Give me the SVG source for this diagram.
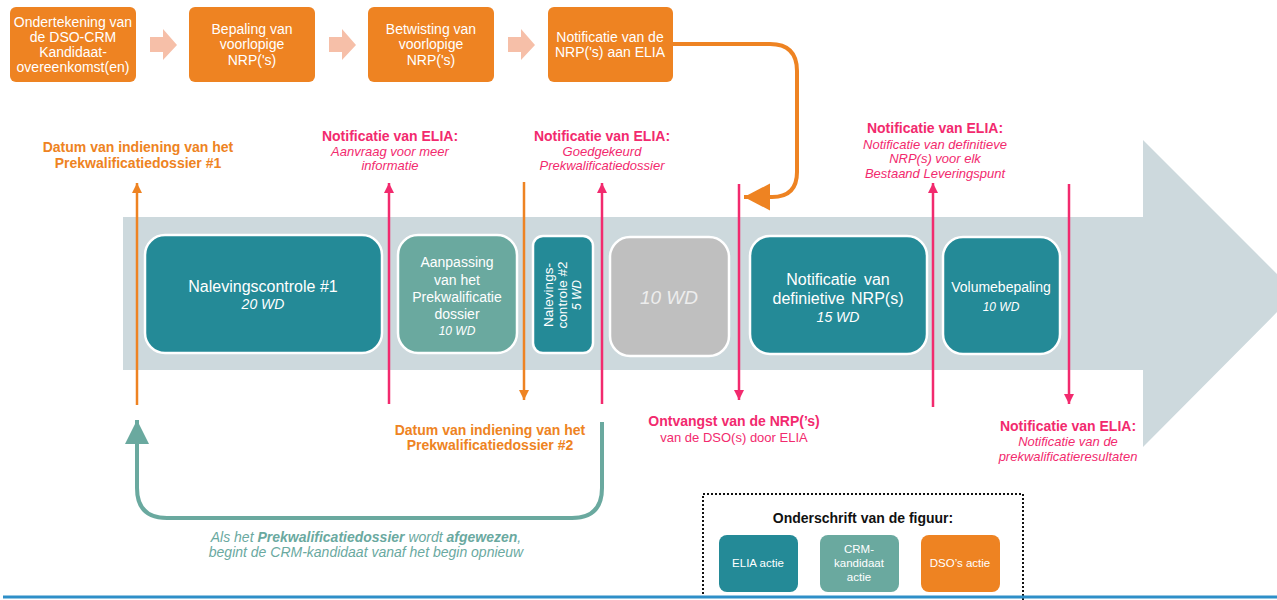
<svg xmlns="http://www.w3.org/2000/svg" width="1277" height="600" viewBox="0 0 1277 600">
<style>
text{font-family:"Liberation Sans",Arial,sans-serif}
.top{fill:#EE8322}
.tt{fill:#fff;font-size:14px;text-anchor:middle}
.chev{fill:#F6BFA8}
.node{stroke:#fff;stroke-width:2.5}
.elia{fill:#248A97}
.crm{fill:#6AA99F}
.gray{fill:#BFBFBF}
.nt{fill:#fff;font-size:16px;text-anchor:middle}
.ns{fill:#fff;font-size:14px;text-anchor:middle}
.it{font-style:italic}
.pinkL{stroke:#F22A6E;stroke-width:2.5;fill:none}
.orL{stroke:#EE8322;stroke-width:2.5;fill:none}
.pb{fill:#F22A6E;font-size:14px;font-weight:bold;text-anchor:middle}
.pi{fill:#F22A6E;font-size:13px;font-style:italic;text-anchor:middle}
.pn{fill:#F22A6E;font-size:13px;text-anchor:middle}
.ob{fill:#EE8322;font-size:14px;font-weight:bold;text-anchor:middle}
.cap{fill:#6AA99F;font-size:14px;font-style:italic;text-anchor:middle}
.lt{fill:#fff;font-size:11.5px;text-anchor:middle}
</style>
<defs>
<marker id="ap" markerUnits="userSpaceOnUse" markerWidth="12" markerHeight="12" refX="10" refY="5" orient="auto"><path d="M0,0 L10,5 L0,10 Z" fill="#F22A6E"/></marker>
<marker id="ao" markerUnits="userSpaceOnUse" markerWidth="12" markerHeight="12" refX="10" refY="5" orient="auto"><path d="M0,0 L10,5 L0,10 Z" fill="#EE8322"/></marker>
<marker id="aoBig" markerUnits="userSpaceOnUse" markerWidth="30" markerHeight="30" refX="26" refY="13.5" orient="auto"><path d="M0,0 L26,13.5 L0,27 Z" fill="#EE8322"/></marker>
<marker id="atBig" markerUnits="userSpaceOnUse" markerWidth="30" markerHeight="30" refX="24" refY="12" orient="auto"><path d="M0,0 L24,12 L0,24 Z" fill="#6AA99F"/></marker>
</defs>
<rect width="1277" height="600" fill="#fff"/>
<g id="timeline-arrow">
<polygon points="123,217 1143,217 1143,140 1296,293 1143,447 1143,370 123,370" fill="#CDD9DD"/>
</g>
<g id="top-process">
<g id="step1"><rect class="top" x="10" y="7" width="126" height="75" rx="6"/>
<text class="tt" x="73" y="27">Ondertekening van</text><text class="tt" x="73" y="42">de DSO-CRM</text><text class="tt" x="73" y="57">Kandidaat-</text><text class="tt" x="73" y="72">overeenkomst(en)</text></g>
<g id="step2"><rect class="top" x="189" y="7" width="126" height="75" rx="6"/>
<text class="tt" x="252" y="34">Bepaling van</text><text class="tt" x="252" y="49">voorlopige</text><text class="tt" x="252" y="65">NRP('s)</text></g>
<g id="step3"><rect class="top" x="368" y="7" width="126" height="75" rx="6"/>
<text class="tt" x="431" y="34">Betwisting van</text><text class="tt" x="431" y="49">voorlopige</text><text class="tt" x="431" y="65">NRP('s)</text></g>
<g id="step4"><rect class="top" x="548" y="7" width="125" height="75" rx="6"/>
<text class="tt" x="610" y="42">Notificatie van de</text><text class="tt" x="610" y="57">NRP('s) aan ELIA</text></g>
<polygon class="chev" points="150,37 163,37 163,29 177,45 163,60 163,52 150,52"/>
<polygon class="chev" points="329,37 342,37 342,29 356,45 342,60 342,52 329,52"/>
<polygon class="chev" points="508,37 521,37 521,29 535,45 521,60 521,52 508,52"/>
</g>
<g id="phases">
<g id="nalevings1"><rect class="node elia" x="145" y="235" width="237" height="118" rx="20"/>
<text class="nt" x="263" y="292">Nalevingscontrole #1</text><text class="ns it" x="263" y="309">20 WD</text></g>
<g id="aanpassing"><rect class="node crm" x="398" y="235" width="119" height="118" rx="20"/>
<text class="ns" x="457" y="267">Aanpassing</text><text class="ns" x="457" y="285">van het</text><text class="ns" x="457" y="302">Prekwalificatie</text><text class="ns" x="457" y="319">dossier</text><text class="it" x="457" y="335" fill="#fff" font-size="12" text-anchor="middle">10 WD</text></g>
<g id="nalevings2"><rect class="node elia" x="533" y="236" width="60" height="117" rx="10"/>
<g transform="translate(563,295) rotate(-90)"><text x="0" y="-10.5" fill="#fff" font-size="13.5" text-anchor="middle">Nalevings-</text><text x="0" y="4" fill="#fff" font-size="13.5" text-anchor="middle">controle #2</text><text class="it" x="0" y="18" fill="#fff" font-size="12" text-anchor="middle">5 WD</text></g></g>
<g id="wait"><rect class="node gray" x="610" y="237" width="119" height="119" rx="20"/>
<text class="it" x="669" y="304" fill="#EDEDED" font-size="19" text-anchor="middle">10 WD</text></g>
<g id="definitieve"><rect class="node elia" x="750" y="236" width="177" height="118" rx="20"/>
<text class="nt" x="838" y="285" word-spacing="3">Notificatie van</text><text class="nt" x="838" y="304" word-spacing="2">definietive NRP(s)</text><text class="ns it" x="838" y="322">15 WD</text></g>
<g id="volume"><rect class="node elia" x="943" y="237" width="117" height="117" rx="20"/>
<text class="ns" x="1001" y="292">Volumebepaling</text><text class="it" x="1001" y="311" fill="#fff" font-size="12" text-anchor="middle">10 WD</text></g>
</g>
<g id="connectors">
<line class="orL" x1="137" y1="405" x2="137" y2="183" marker-end="url(#ao)"/>
<line class="pinkL" x1="389" y1="404" x2="389" y2="183" marker-end="url(#ap)"/>
<line class="orL" x1="524" y1="182" x2="524" y2="400" marker-end="url(#ao)"/>
<line class="pinkL" x1="602" y1="404" x2="602" y2="183" marker-end="url(#ap)"/>
<line class="pinkL" x1="739" y1="184" x2="739" y2="400" marker-end="url(#ap)"/>
<line class="pinkL" x1="933" y1="407" x2="933" y2="183" marker-end="url(#ap)"/>
<line class="pinkL" x1="1069" y1="184" x2="1069" y2="404" marker-end="url(#ap)"/>
<path d="M673,44 H770 Q797,44 797,71 V172 Q797,197 772,197 H744" stroke="#EE8322" stroke-width="4" fill="none" marker-end="url(#aoBig)"/>
<path d="M602,422 V488 Q602,518 572,518 H167 Q137,518 137,488 V420" stroke="#6AA99F" stroke-width="4" fill="none" marker-end="url(#atBig)"/>
</g>
<g id="labels">
<text class="ob" x="138" y="152">Datum van indiening van het</text><text class="ob" x="138" y="168">Prekwalificatiedossier #1</text>
<text class="pb" x="390" y="141">Notificatie van ELIA:</text><text class="pi" x="390" y="156">Aanvraag voor meer</text><text class="pi" x="390" y="170">informatie</text>
<text class="pb" x="602" y="141">Notificatie van ELIA:</text><text class="pi" x="602" y="156">Goedgekeurd</text><text class="pi" x="602" y="170">Prekwalificatiedossier</text>
<text class="pb" x="935" y="133">Notificatie van ELIA:</text><text class="pi" x="935" y="149">Notificatie van definitieve</text><text class="pi" x="935" y="163">NRP(s) voor elk</text><text class="pi" x="935" y="178">Bestaand Leveringspunt</text>
<text class="ob" x="490" y="435">Datum van indiening van het</text><text class="ob" x="490" y="450">Prekwalificatiedossier #2</text>
<text class="pb" x="734" y="426">Ontvangst van de NRP(’s)</text><text class="pn" x="734" y="442">van de DSO(s) door ELIA</text>
<text class="pb" x="1068" y="431">Notificatie van ELIA:</text><text class="pi" x="1068" y="446">Notificatie van de</text><text class="pi" x="1068" y="461">prekwalificatieresultaten</text>
<text class="cap" x="366" y="542">Als het <tspan font-weight="bold">Prekwalificatiedossier</tspan> wordt <tspan font-weight="bold">afgewezen</tspan>,</text>
<text class="cap" x="366" y="557">begint de CRM-kandidaat vanaf het begin opnieuw</text>
</g>
<g id="legend">
<rect x="703" y="494" width="320" height="120" fill="none" stroke="#111" stroke-width="2" stroke-dasharray="2,2"/>
<text x="863" y="523" font-size="14" font-weight="bold" fill="#111" text-anchor="middle">Onderschrift van de figuur:</text>
<g id="legend-elia"><rect class="elia" x="719" y="535" width="79" height="57" rx="8"/><text class="lt" x="758" y="567">ELIA actie</text></g>
<g id="legend-crm"><rect class="crm" x="820" y="535" width="79" height="57" rx="8"/><text class="lt" x="859" y="553">CRM-</text><text class="lt" x="859" y="567">kandidaat</text><text class="lt" x="859" y="581">actie</text></g>
<g id="legend-dso"><rect class="top" x="921" y="535" width="79" height="57" rx="8"/><text class="lt" x="960" y="567">DSO’s actie</text></g>
</g>
<line x1="3" y1="597" x2="1277" y2="597" stroke="#2E8FC8" stroke-width="3"/>
</svg>
